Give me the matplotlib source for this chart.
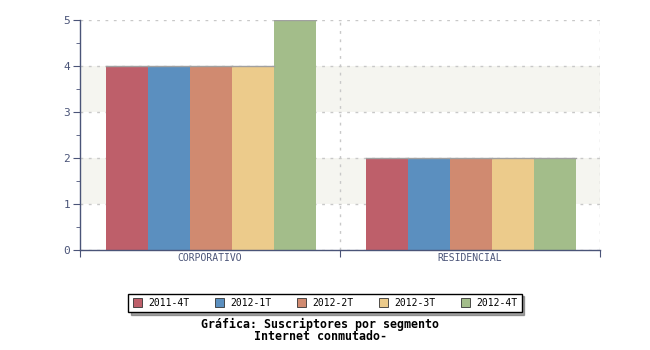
import matplotlib.pyplot as plt
import numpy as np
from matplotlib.ticker import MultipleLocator

# Data
categories = ['CORPORATIVO', 'RESIDENCIAL']
series = ['2011-4T', '2012-1T', '2012-2T', '2012-3T', '2012-4T']
values = [
    [4, 2],
    [4, 2],
    [4, 2],
    [4, 2],
    [5, 2],
]
colors = ['#be5f6a', '#5b8fbf', '#d08a70', '#eccb8b', '#a3bd8a']

axis_col = '#4a5478'
plt.rcParams['font.family'] = 'DejaVu Sans Mono'

fig = plt.figure(figsize=(6.5, 3.5), dpi=100)
ax = fig.add_axes([80/650, 100/350, 520/650, 230/350])

# shaded bands
for lo in [1, 3]:
    ax.axhspan(lo, lo + 1, color='#f5f5f0', zorder=0, lw=0)

x = np.arange(len(categories)) + 0.5 + 1/260
w = 42 / 260
for i, (s, vals) in enumerate(zip(series, values)):
    ax.bar(x + (i - 2) * w, vals, width=w, color=colors[i], label=s,
           edgecolor='none', zorder=2)
    for xi, v in zip(x + (i - 2) * w, vals):
        ax.plot([xi - w/2, xi + w/2], [v, v], color='#a0a0a0', lw=1, zorder=3)

ax.set_xlim(0, 2)
ax.set_ylim(0, 5)
ax.yaxis.set_minor_locator(MultipleLocator(0.5))
ax.set_yticks([0, 1, 2, 3, 4, 5])
ax.grid(axis='y', which='major', color='#c8c8c8', ls=(0, (2, 4)), lw=1, zorder=1)
for xv in [1, 2]:
    ax.axvline(xv, color='#c8c8c8', ls=(0, (2, 4)), lw=1, zorder=1)

ax.set_xticks([0, 1, 2])
ax.set_xticklabels([])
ax.set_xticks(np.arange(len(categories)) + 0.5, minor=True)
ax.set_xticklabels(categories, minor=True)
ax.tick_params(axis='x', which='minor', length=0, pad=2, labelsize=7, labelcolor=axis_col)
ax.tick_params(axis='x', which='major', direction='out', length=5, color=axis_col)
ax.tick_params(axis='y', which='major', direction='out', length=5, color=axis_col,
               labelsize=8, labelcolor=axis_col, pad=2)
ax.tick_params(axis='y', which='minor', direction='out', length=3, color=axis_col)

for sp in ['top', 'right']:
    ax.spines[sp].set_visible(False)
for sp in ['left', 'bottom']:
    ax.spines[sp].set_color(axis_col)
    ax.spines[sp].set_linewidth(1)

leg = fig.legend(loc='center', bbox_to_anchor=(325/650, 1 - 303/350), ncol=5,
                 fontsize=7, frameon=True, fancybox=False, shadow=True,
                 handlelength=1, handleheight=1, columnspacing=2.6,
                 handletextpad=0.6, borderpad=0.45)
leg.get_frame().set_edgecolor('#000000')
leg.get_frame().set_linewidth(1)
for h in leg.legend_handles:
    h.set_edgecolor('#333333')
    h.set_linewidth(0.6)

fig.text(320/650, 1 - 324/350, 'Gráfica: Suscriptores por segmento', ha='center',
         va='center', fontsize=8.4, fontweight='bold')
fig.text(320/650, 1 - 337/350, 'Internet conmutado-', ha='center',
         va='center', fontsize=8.4, fontweight='bold')

fig.savefig('out.png', dpi=100)
